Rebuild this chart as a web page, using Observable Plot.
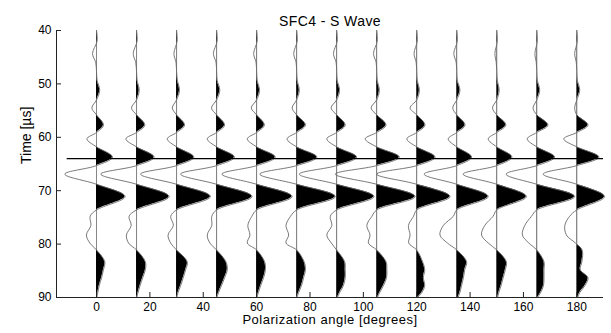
<!DOCTYPE html>
<html><head><meta charset="utf-8">
<script src="https://cdn.jsdelivr.net/npm/d3@7"></script>
<script src="https://cdn.jsdelivr.net/npm/@observablehq/plot@0.6"></script>
<style>html,body{margin:0;padding:0;background:#fff;} svg{display:block}</style>
</head><body><div id="chart"></div>
<script>
const title = "SFC4 - S Wave";
const xLabel = "Polarization angle [degrees]";
const yLabel = "Time [\u00b5s]";
const xTicks = [0, 20, 40, 60, 80, 100, 120, 140, 160, 180];
const yTicks = [40, 50, 60, 70, 80, 90];
const pickTime = 64;
const angles = [0, 15, 30, 45, 60, 75, 90, 105, 120, 135, 150, 165, 180];
const times = [40, 42, 44.3, 46, 47.7, 49.3, 51.2, 53, 54.5, 55.8, 57.7, 59.1, 60.3, 61.8, 63.7, 65.3, 66.9, 68.8, 71.1, 73.6, 74.8, 76.5, 78.3, 79.8, 81.1, 83.3, 84.8, 86.3, 87.8, 89, 90];
// amplitudes (in degrees of x-axis) per trace
const amp0   = [0,0.2,-1.5,-0.3,0,0.2,1.2,0,-1.75,0, 2.6,0,-3.6,0,6.0,0,-11.9,0,10.7,0, -2.4,-2.1,-3.8,-2.5,0, 3.1,2.6,1.9,1.0,0.5, 0.1];
const amp15  = [0,0.2,-1.25,-0.3,0,0.2,1.0,0,-1.9,0, 3.1,0,-4.0,0,6.6,0,-13.4,0,12.2,0, -2.8,-2.0,-3.8,-3.0,0, 3.3,3.3,2.3,1.3,0.6, 0.1];
const amp30  = [0,0.2,-1.0,-0.2,0,0.3,1.1,0,-1.6,0, 3.0,0,-3.5,0,6.5,0,-13.5,0,12.7,0, -2.2,-1.2,-3.2,-2.2,0, 4.0,3.4,2.5,1.5,0.6, 0.1];
const amp45  = [0,0.2,-1.2,-0.2,0,0.2,1.2,0,-1.9,0, 3.0,0,-3.5,0,6.7,0,-13.5,0,13.3,0, -1.8,-1.8,-3.5,-2.5,0, 3.5,4.0,3.0,1.8,0.8, 0.1];
const amp60  = [0,0.2,-1.1,-0.2,0,0.2,1.1,0,-2.0,0, 2.9,0,-3.5,0,7.0,0,-13.0,0,13.3,0, -1.8,-3.3,-2.5,-3.5,0, 3.0,3.3,2.6,1.5,0.7, 0.1];
const amp75  = [0,0.2,-1.1,-0.2,0,0.2,1.0,0,-1.7,0, 3.3,0,-3.6,0,7.6,0,-13.8,0,14.5,0, -2.3,-4.0,-3.0,-4.0,0, 2.8,3.3,2.6,1.8,0.8, 0.1];
const amp90  = [0,0.2,-1.2,-0.2,0,0.2,1.1,0,-2.1,0, 3.2,0,-3.7,0,7.5,0,-14.0,0,14.0,0, -2.4,-1.8,-3.7,-2.0,0, 3.0,3.2,3.2,2.5,1.2, 0.3];
const amp105 = [0,0.2,-1.2,-0.2,0,0.2,1.0,0,-2.1,0, 3.5,0,-4.3,0,8.5,0,-15.5,0,14.4,0, -1.8,-3.7,-2.5,-3.1,0, 3.5,3.8,3.7,2.5,1.2, 0.3];
const amp120 = [0,0.2,-1.0,-0.2,0,0.2,1.0,0,-2.5,0, 3.1,0,-3.7,0,6.9,0,-15.0,0,12.5,0, -1.2,-3.1,-2.5,-3.0,0, 2.2,3.0,2.5,3.0,2.0, 0.3];
const amp135 = [0,0.2,-1.1,-0.2,0,0.2,1.2,0,-1.5,0, 3.1,0,-3.2,0,5.6,0,-12.2,0,11.8,0, -1.3,-5.0,-6.3,-3.5,0, 3.7,3.0,2.5,1.8,1.2, 0.5];
const amp150 = [0,0.2,-0.7,-0.2,0,0.2,0.9,0,-1.6,0, 3.4,0,-3.2,0,5.7,0,-12.6,0,11.1,0, -1.4,-4.5,-5.7,-3.2,0, 3.6,3.2,2.4,1.6,0.8, 0.3];
const amp165 = [0,0.2,-0.7,-0.2,0,0.2,1.1,0,-1.4,0, 4.2,0,-3.6,0,6.7,0,-11.5,0,14.2,0, -2.0,-4.5,-5.4,-3.0,0, 2.7,2.7,2.7,2.5,1.5, 0.3];
const amp180 = [0,0.2,-0.8,-0.2,0,0.2,1.1,0,-0.8,0, 4.2,0,-4.9,0,8.3,0,-12.6,0,10.4,0, -2.7,-4.5,-3.9,-0.5,2.0, 1.9,1.3,4.2,3.0,1.2, 0.3];
const traces = [amp0, amp15, amp30, amp45, amp60, amp75, amp90, amp105, amp120, amp135, amp150, amp165, amp180];

const rows = [];
angles.forEach((a, i) => times.forEach((t, j) => rows.push({angle: a, t, x: a + traces[i][j]})));

const font = "'Liberation Sans', Arial, Helvetica, sans-serif";
const svg = Plot.plot({
  width: 611, height: 333,
  marginLeft: 56, marginRight: 8, marginTop: 30, marginBottom: 36,
  style: {fontFamily: font, fontSize: "12px", color: "black", background: "white", overflow: "visible"},
  x: {domain: [-15, 190], ticks: xTicks, tickSize: 0, tickPadding: 4.5, label: null, tickFormat: d => String(d)},
  y: {domain: [40, 90], reverse: true, ticks: yTicks, tickSize: 0, tickPadding: 5, label: null, tickFormat: d => String(d)},
  marks: [
    Plot.ruleX(angles, {x: d => d, y1: 40, y2: 90, stroke: "#7a7a7a", strokeWidth: 0.9}),
    Plot.areaX(rows, {y: "t", x1: "angle", x2: "x", z: "angle", fill: "black", curve: "catmull-rom"}),
    Plot.lineX(rows, {y: "t", x: "x", z: "angle", stroke: "#6a6a6a", strokeWidth: 0.9, curve: "catmull-rom"}),
    Plot.ruleY([pickTime], {y: d => d, x1: -11, x2: 190, stroke: "black", strokeWidth: 1.2}),
    Plot.ruleX([-15], {x: d => d, stroke: "#222", strokeWidth: 1}),
    Plot.ruleY([90], {y: d => d, stroke: "#222", strokeWidth: 1}),
    Plot.tickX(xTicks, {x: d => d, insetTop: 262, stroke: "#222"}),
    Plot.tickY(yTicks, {y: d => d, insetRight: 542, stroke: "#222"}),
    Plot.text([title], {text: d => d, frameAnchor: "top", dy: -14.5, fontSize: 14, fill: "black"}),
    Plot.text([xLabel], {text: d => d, frameAnchor: "bottom", dy: 26.3, fontSize: 13, fill: "black"}),
    Plot.text([yLabel], {text: d => d, frameAnchor: "left", dx: -30, rotate: -90, fontSize: 14, fill: "black"})
  ]
});

// clip each trace's filled area to the positive side of its baseline
const xs = svg.scale("x");
const ns = "http://www.w3.org/2000/svg";
const defs = document.createElementNS(ns, "defs");
svg.insertBefore(defs, svg.firstChild);
const areaPaths = svg.querySelectorAll('g[aria-label="area"] path');
areaPaths.forEach((p, i) => {
  const cp = document.createElementNS(ns, "clipPath");
  cp.setAttribute("id", "pos" + i);
  const r = document.createElementNS(ns, "rect");
  r.setAttribute("x", xs.apply(angles[i]));
  r.setAttribute("y", 0);
  r.setAttribute("width", 611);
  r.setAttribute("height", 333);
  cp.appendChild(r);
  defs.appendChild(cp);
  p.setAttribute("clip-path", `url(#pos${i})`);
});
// letter spacing on the title and x label texts
svg.querySelectorAll('g[aria-label="text"] text').forEach(t => {
  if (t.textContent === title) t.setAttribute("letter-spacing", "0.4");
  if (t.textContent === xLabel) t.setAttribute("letter-spacing", "0.5");
});
document.getElementById("chart").appendChild(svg);
</script>
</body></html>
